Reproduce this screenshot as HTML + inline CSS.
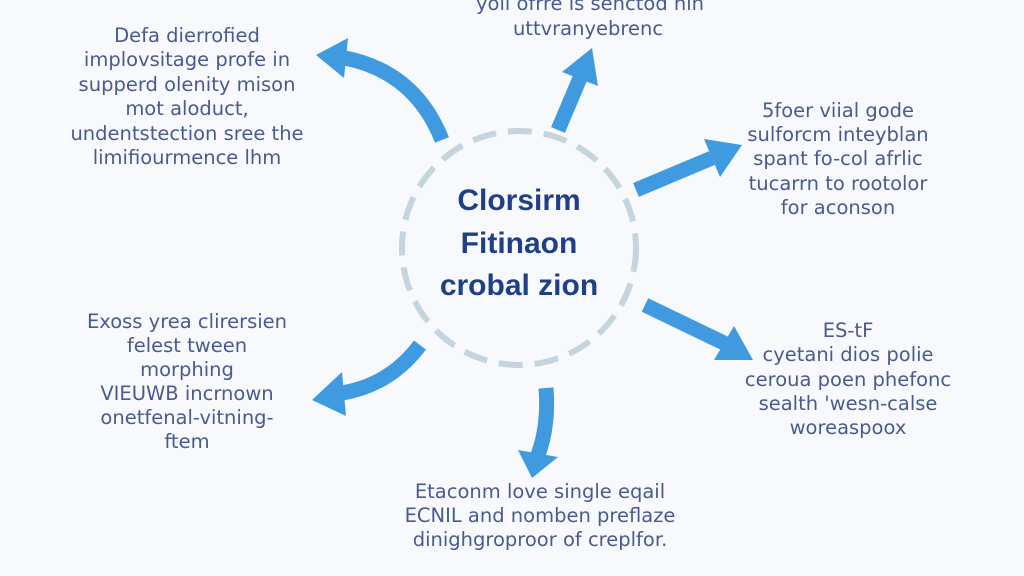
<!DOCTYPE html>
<html><head><meta charset="utf-8"><style>
html,body{margin:0;padding:0;background:#f7f9fc;}
svg{display:block}
text{font-family:"DejaVu Sans","Liberation Sans",sans-serif;}
.t{font-size:19.5px;fill:#4a5a8e;text-anchor:middle}
.c{font-family:"Liberation Sans",sans-serif;font-size:30px;font-weight:bold;fill:#1f3f86;text-anchor:middle}
.s{fill:none;stroke:#3f9ae0;stroke-width:15;}
.h{fill:#3f9ae0}
</style></head><body>
<svg width="1024" height="576" viewBox="0 0 1024 576">
<rect width="1024" height="576" fill="#f7f9fc"/>
<circle cx="519" cy="248" r="117" fill="none" stroke="#c6d4df" stroke-width="6" stroke-dasharray="24 12"/>
<text class="c" x="519" y="210">Clorsirm</text>
<text class="c" x="519" y="253">Fitinaon</text>
<text class="c" x="519" y="295">crobal zion</text>

<path class="s" d="M442,140 Q415,72 345,58"/>
<polygon class="h" points="316,55 348,38 344,78"/>

<path class="s" d="M558,130 L580,78"/>
<polygon class="h" points="592,48 562,72 598,86"/>

<path class="s" d="M636,190 L712,158"/>
<polygon class="h" points="742,145 704,139 720,177"/>

<path class="s" d="M645,305 L726,344"/>
<polygon class="h" points="753,360 734,326 714,360"/>

<path class="s" d="M546,388 Q549,425 538,455"/>
<polygon class="h" points="532,478 518,450 558,457"/>

<path class="s" d="M420,345 Q390,385 342,393"/>
<polygon class="h" points="312,400 342,372 346,416"/>

<g class="t">
<text x="187" y="42">Defa dierrofied</text>
<text x="187" y="66">implovsitage profe in</text>
<text x="187" y="91">supperd olenity mison</text>
<text x="187" y="115">mot aloduct,</text>
<text x="187" y="140">undentstection sree the</text>
<text x="187" y="164">limifiourmence lhm</text>

<text x="590" y="10">yoll ofrre is senctod hin</text>
<text x="588" y="35">uttvranyebrenc</text>

<text x="838" y="117">5foer viial gode</text>
<text x="838" y="141">sulforcm inteyblan</text>
<text x="838" y="165">spant fo-col afrlic</text>
<text x="838" y="190">tucarrn to rootolor</text>
<text x="838" y="214">for aconson</text>

<text x="848" y="337">ES-tF</text>
<text x="848" y="361">cyetani dios polie</text>
<text x="848" y="386">ceroua poen phefonc</text>
<text x="848" y="410">sealth 'wesn-calse</text>
<text x="848" y="434">woreaspoox</text>

<text x="187" y="328">Exoss yrea clirersien</text>
<text x="187" y="352">felest tween</text>
<text x="187" y="376">morphing</text>
<text x="187" y="400">VIEUWB incrnown</text>
<text x="187" y="424">onetfenal-vitning-</text>
<text x="187" y="448">ftem</text>

<text x="540" y="498">Etaconm love single eqail</text>
<text x="540" y="522">ECNIL and nomben preflaze</text>
<text x="540" y="546">dinighgroproor of creplfor.</text>
</g>
</svg>
</body></html>
